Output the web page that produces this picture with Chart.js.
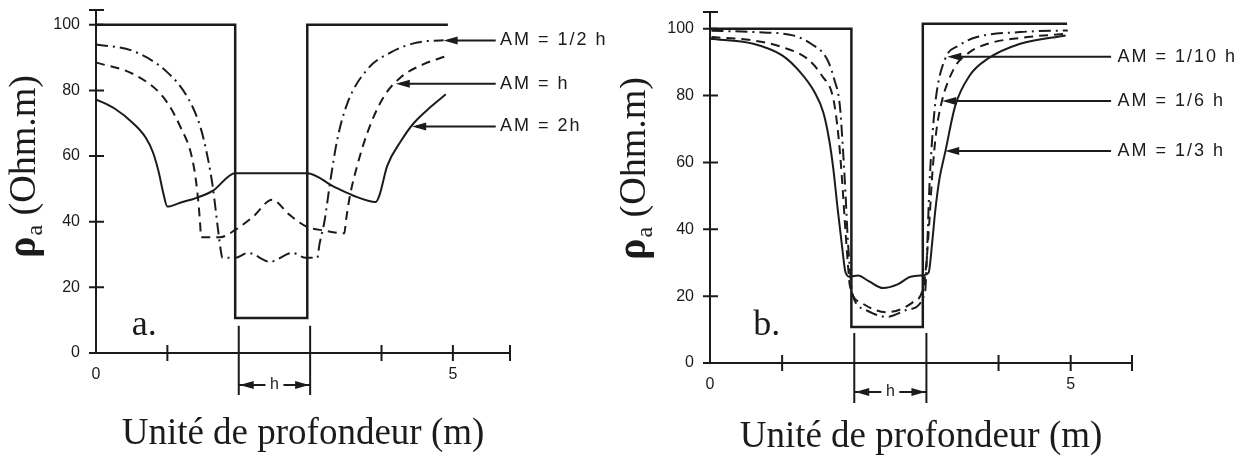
<!DOCTYPE html>
<html>
<head>
<meta charset="utf-8">
<script src="https://cdn.jsdelivr.net/npm/chart.js@4/dist/chart.umd.min.js"></script>
<style>
  html, body { margin: 0; padding: 0; background: #fff; }
  #wrap { position: relative; width: 1244px; height: 461px; }
  .panel { position: absolute; top: 0; height: 461px; }
  #pa { left: 0; width: 620px; }
  #pb { left: 620px; width: 624px; }
</style>
</head>
<body>
<div id="wrap">
  <div class="panel" id="pa"><canvas id="chartA"></canvas></div>
  <div class="panel" id="pb"><canvas id="chartB"></canvas></div>
</div>
<script>
// axes shared by both panels
const yTicks = [0, 20, 40, 60, 80, 100];
const xTicks = [0, 1, 2, 3, 4, 5];
const xLabelsShown = [0, 5];
const hEdges = [2, 3];
const xTitle = "Unité de profondeur (m)";

// panel a : true resistivity (block) and apparent curves, [x, rho]
const aBlock = [[0, 100], [1.95, 100], [1.95, 10.7], [2.96, 10.7], [2.96, 100], [4.93, 100]];
const aHalfH = [[0, 94], [0.52, 92], [1.0, 85.5], [1.28, 78], [1.46, 69], [1.57, 59], [1.64, 50],
  [1.71, 37.5], [1.75, 31], [1.77, 29], [1.95, 29], [2.13, 30.5], [2.44, 27.8], [2.75, 30.5],
  [2.94, 29], [3.1, 29], [3.13, 33], [3.2, 40], [3.28, 52], [3.38, 65], [3.52, 76], [3.8, 86.4],
  [4.13, 91.6], [4.5, 94.6], [4.87, 95.3]];
const aOneH = [[0, 88.5], [0.52, 85], [0.94, 78], [1.18, 69], [1.35, 59], [1.42, 49], [1.46, 39],
  [1.47, 35.3], [1.74, 35.3], [1.95, 37.5], [2.2, 41.5], [2.47, 46.7], [2.7, 42.3], [2.95, 38.5],
  [3.2, 37.3], [3.48, 36.5], [3.5, 40], [3.55, 47], [3.61, 53], [3.8, 67], [4.03, 78], [4.27, 84],
  [4.59, 88], [4.9, 90.4]];
const aTwoH = [[0, 77.3], [0.26, 74.5], [0.52, 70], [0.7, 65.5], [0.8, 61], [0.88, 55], [0.94, 49],
  [1.0, 44.6], [1.18, 45.8], [1.4, 47.2], [1.64, 49.5], [1.95, 54.8], [2.96, 54.8], [3.33, 50.7],
  [3.6, 48], [3.92, 46], [3.97, 48], [4.08, 57], [4.27, 64.5], [4.45, 70], [4.69, 75], [4.9, 78.8]];
const aLabels = ["AM = 1/2 h", "AM = h", "AM = 2h"];
const aArrowTips = [[4.87, 95.2], [4.2, 82], [4.43, 69]];

// panel b
const bBlock = [[0, 100], [1.96, 100], [1.96, 10.8], [2.95, 10.8], [2.95, 101.5], [4.95, 101.5]];
const bTenthH = [[0.02, 99.4], [0.6, 99], [1.15, 98], [1.4, 95.5], [1.62, 91], [1.72, 85], [1.8, 77],
  [1.84, 65], [1.88, 50], [1.91, 37], [1.94, 28], [1.97, 21], [2.15, 16], [2.45, 13.8], [2.75, 16],
  [2.98, 21], [3.0, 28], [3.02, 40], [3.04, 52], [3.07, 64], [3.13, 79], [3.26, 91], [3.45, 95],
  [3.7, 97.5], [4.3, 99], [4.96, 99.5]];
const bSixthH = [[0.02, 97.5], [0.6, 96.5], [1.0, 94.5], [1.35, 91], [1.55, 86], [1.71, 79], [1.78, 68],
  [1.83, 55], [1.87, 42], [1.91, 30], [1.94, 23], [2.1, 18], [2.45, 15.2], [2.8, 18], [2.96, 22.8],
  [3.0, 30], [3.04, 42], [3.08, 56], [3.13, 68], [3.2, 77], [3.38, 88], [3.6, 93], [3.85, 95.5],
  [4.4, 97.5], [4.96, 98.5]];
const bThirdH = [[0, 97], [0.6, 95.5], [1.0, 92], [1.25, 87], [1.45, 81], [1.57, 75], [1.65, 67],
  [1.71, 58], [1.77, 46], [1.83, 35], [1.88, 27], [1.94, 25.8], [2.05, 26.2], [2.2, 24.5], [2.4, 22.4],
  [2.6, 23.5], [2.78, 25.8], [2.95, 26.2], [3.03, 27], [3.08, 36], [3.12, 45], [3.18, 55], [3.26, 63],
  [3.4, 77], [3.6, 86], [3.85, 91], [4.3, 95.5], [4.93, 98]];
const bLabels = ["AM = 1/10 h", "AM = 1/6 h", "AM = 1/3 h"];
const bArrowTips = [[3.29, 91.6], [3.22, 78.4], [3.26, 63.4]];

const ink = "#1b1b1b";
const DASHED = [9, 6];
const DASHDOT = [12, 5, 2, 5];

function series(data, dash, width, smooth) {
  const ds = {
    data: data.map(p => ({ x: p[0], y: p[1] })),
    borderColor: ink,
    borderWidth: width,
    borderDash: dash,
    pointRadius: 0,
    fill: false,
    tension: 0
  };
  if (smooth) ds.cubicInterpolationMode = "monotone";
  return ds;
}

function arrowHead(ctx, x, y, dir) {
  ctx.beginPath();
  ctx.moveTo(x, y);
  ctx.lineTo(x + dir * 14, y - 4);
  ctx.lineTo(x + dir * 14, y + 4);
  ctx.closePath();
  ctx.fill();
}

// ticks crossing the axes, the "h" marker, the AM labels and the rho title
const deco = {
  id: "deco",
  afterDraw(chart, args, o) {
    const { ctx } = chart;
    const xs = chart.scales.x, ys = chart.scales.y;
    const x0 = xs.getPixelForValue(0), y0 = ys.getPixelForValue(0);
    ctx.save();
    ctx.strokeStyle = ink;
    ctx.fillStyle = ink;
    ctx.lineWidth = 2;
    ctx.setLineDash([]);

    ctx.beginPath();
    yTicks.concat([ys.max]).forEach(v => {
      const y = ys.getPixelForValue(v);
      ctx.moveTo(x0 - 7, y);
      ctx.lineTo(x0 + 8, y);
    });
    xTicks.filter(v => v > 0 && !hEdges.includes(v)).concat([xs.max]).forEach(v => {
      const x = xs.getPixelForValue(v);
      ctx.moveTo(x, y0 - 8);
      ctx.lineTo(x, y0 + 8);
    });
    // h marker
    hEdges.forEach(v => {
      const x = xs.getPixelForValue(v);
      ctx.moveTo(x, ys.getPixelForValue(o.hTop));
      ctx.lineTo(x, y0 + o.hDrop);
    });
    const xl = xs.getPixelForValue(hEdges[0]), xr = xs.getPixelForValue(hEdges[1]);
    const ya = y0 + o.hArrow, xm = (xl + xr) / 2;
    ctx.moveTo(xl, ya); ctx.lineTo(xm - 9, ya);
    ctx.moveTo(xm + 9, ya); ctx.lineTo(xr, ya);
    ctx.stroke();
    arrowHead(ctx, xl + 1, ya, 1);
    arrowHead(ctx, xr - 1, ya, -1);
    ctx.font = "16px 'Liberation Sans'";
    ctx.textAlign = "center";
    ctx.textBaseline = "middle";
    ctx.fillText("h", xm, ya);

    // AM labels with arrows
    ctx.font = "18px 'Liberation Sans'";
    ctx.letterSpacing = "2px";
    ctx.textAlign = "left";
    o.labels.forEach((txt, i) => {
      const tx = xs.getPixelForValue(o.tips[i][0]);
      const ty = ys.getPixelForValue(o.tips[i][1]);
      ctx.beginPath();
      ctx.moveTo(tx + 4, ty);
      ctx.lineTo(xs.getPixelForValue(o.lineEnd), ty);
      ctx.stroke();
      arrowHead(ctx, tx, ty, 1);
      ctx.fillText(txt, xs.getPixelForValue(o.textX), ty);
    });
    ctx.letterSpacing = "0px";

    // panel letter
    ctx.font = "36px 'Liberation Serif'";
    ctx.textBaseline = "alphabetic";
    ctx.fillText(o.letter, xs.getPixelForValue(o.letterAt[0]), ys.getPixelForValue(o.letterAt[1]));

    // y title  rho_a (Ohm.m)
    ctx.translate(o.titleAt[0], o.titleAt[1]);
    ctx.rotate(-Math.PI / 2);
    ctx.font = "bold 40px 'Liberation Serif'";
    ctx.fillText("ρ", 0, 0);
    let w = ctx.measureText("ρ").width;
    ctx.font = "24px 'Liberation Serif'";
    ctx.fillText("a", w + 1, 7);
    w += ctx.measureText("a").width + 1;
    ctx.font = "38px 'Liberation Serif'";
    ctx.fillText(" (Ohm.m)", w, 0);
    ctx.restore();
  }
};

function makeChart(id, datasets, geo, decoOpts) {
  return new Chart(document.getElementById(id), {
    type: "line",
    data: { datasets: datasets },
    options: {
      responsive: true,
      maintainAspectRatio: false,
      animation: false,
      events: [],
      layout: { padding: { left: 0, top: geo.top, right: geo.right, bottom: 0 } },
      plugins: {
        legend: { display: false },
        tooltip: { enabled: false },
        deco: decoOpts
      },
      scales: {
        x: {
          type: "linear",
          min: 0,
          max: geo.xMax,
          afterBuildTicks: s => { s.ticks = xTicks.map(v => ({ value: v })); },
          afterFit: s => { s.height = geo.xHeight; s.paddingLeft = 0; s.paddingRight = 0; },
          grid: { display: false, drawTicks: false },
          border: { display: true, color: ink, width: 2 },
          ticks: {
            padding: 12,
            color: ink,
            autoSkip: false,
            maxRotation: 0,
            font: { family: "Liberation Sans", size: 16 },
            callback: v => (xLabelsShown.includes(v) ? String(v) : "")
          },
          title: {
            display: true,
            text: xTitle,
            color: ink,
            font: { family: "Liberation Serif", size: 37 },
            padding: { top: 0, bottom: geo.titlePad }
          }
        },
        y: {
          min: 0,
          max: geo.yMax,
          afterBuildTicks: s => { s.ticks = yTicks.map(v => ({ value: v })); },
          afterFit: s => { s.width = geo.yWidth; s.paddingTop = 0; s.paddingBottom = 0; },
          grid: { display: false, drawTicks: false },
          border: { display: true, color: ink, width: 2 },
          ticks: {
            padding: 16,
            color: ink,
            font: { family: "Liberation Sans", size: 16 }
          }
        }
      }
    },
    plugins: [deco]
  });
}

makeChart("chartA", [
  series(aBlock, [], 2.5, false),
  series(aHalfH, DASHDOT, 2, true),
  series(aOneH, DASHED, 2, true),
  series(aTwoH, [], 2, true)
], { top: 10, right: 110, xMax: 5.8, yMax: 104.5, xHeight: 108, yWidth: 96, titlePad: 5 }, {
  labels: aLabels, tips: aArrowTips, lineEnd: 5.6, textX: 5.66,
  hTop: 8.3, hDrop: 42, hArrow: 32, letter: "a.", letterAt: [0.5, 5.5], titleAt: [35, 258]
});

makeChart("chartB", [
  series(bBlock, [], 2.5, false),
  series(bTenthH, DASHDOT, 2, true),
  series(bSixthH, DASHED, 2, true),
  series(bThirdH, [], 2, true)
], { top: 12, right: 112, xMax: 5.85, yMax: 105, xHeight: 98, yWidth: 90, titlePad: 2 }, {
  labels: bLabels, tips: bArrowTips, lineEnd: 5.56, textX: 5.65,
  hTop: 9, hDrop: 40, hArrow: 29, letter: "b.", letterAt: [0.6, 8.4], titleAt: [25, 260]
});
</script>
</body>
</html>
